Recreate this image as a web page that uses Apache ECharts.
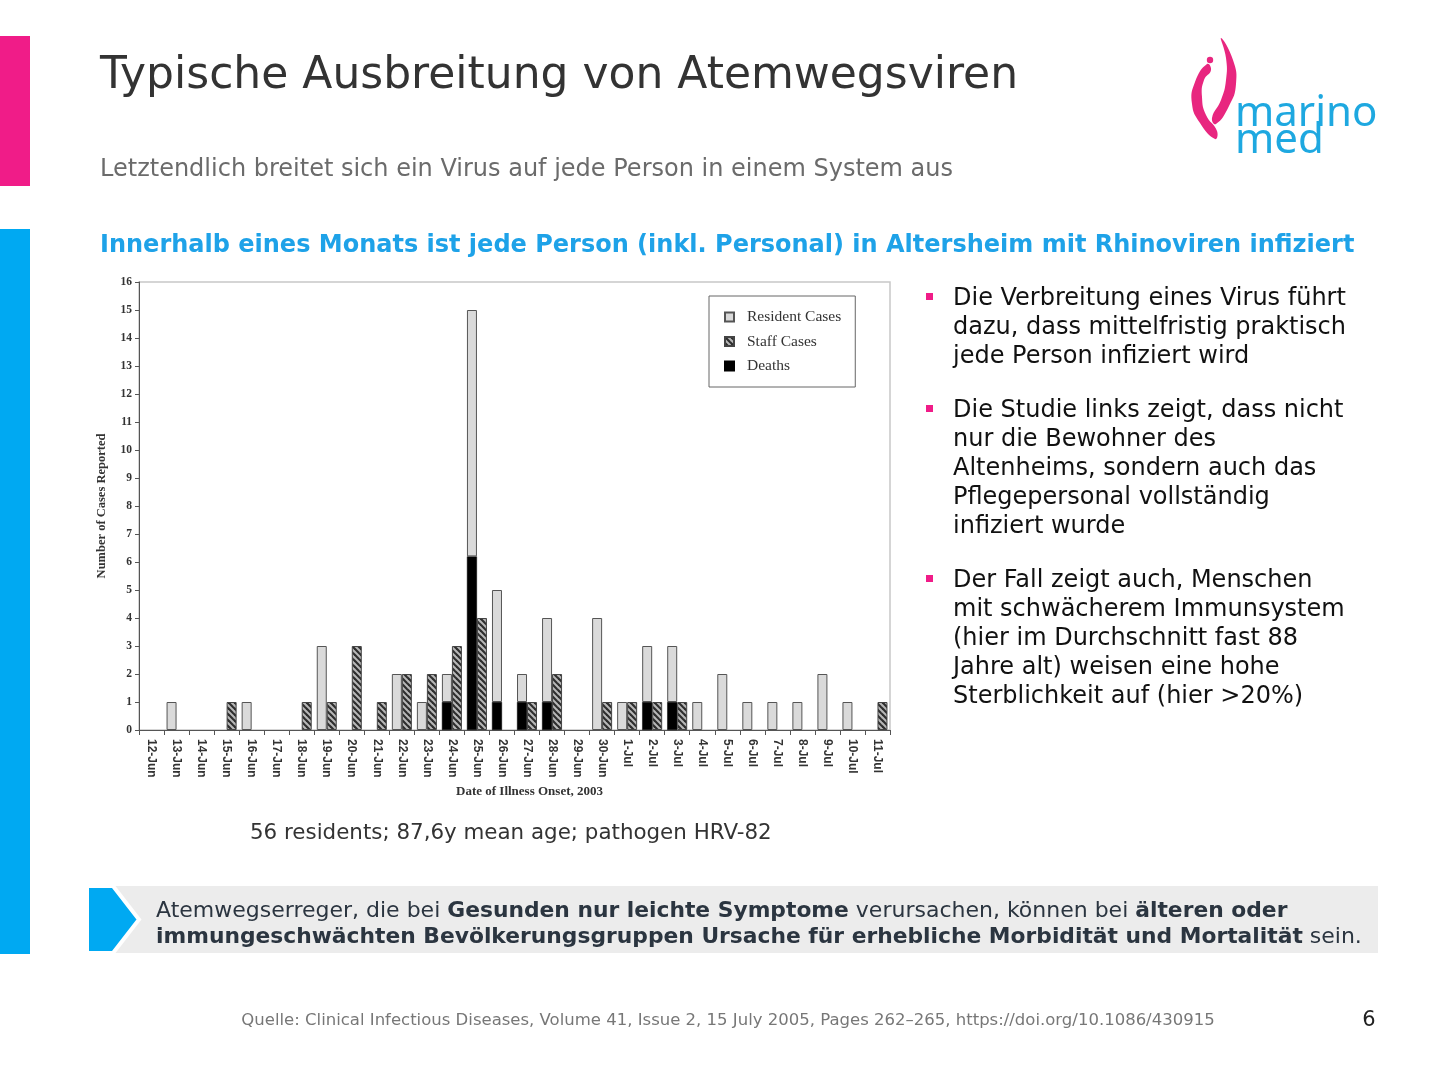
<!DOCTYPE html>
<html>
<head>
<meta charset="utf-8">
<script src="https://cdn.jsdelivr.net/npm/echarts@6/dist/echarts.min.js"></script>
<style>html,body{margin:0;padding:0;background:#fff}#c{width:1440px;height:1080px}</style>
</head>
<body>
<div id="c"></div>
<script>
const days = ['12-Jun','13-Jun','14-Jun','15-Jun','16-Jun','17-Jun','18-Jun','19-Jun','20-Jun','21-Jun','22-Jun','23-Jun','24-Jun','25-Jun','26-Jun','27-Jun','28-Jun','29-Jun','30-Jun','1-Jul','2-Jul','3-Jul','4-Jul','5-Jul','6-Jul','7-Jul','8-Jul','9-Jul','10-Jul','11-Jul'];
const residentCases = [0,1,0,0,1,0,0,3,0,0,2,1,2,15,5,2,4,0,4,1,3,3,1,2,1,1,1,2,1,0];
const staffCases    = [0,0,0,1,0,0,1,1,3,1,2,2,3,4,0,1,2,0,1,1,1,1,0,0,0,0,0,0,0,1];
const deaths        = [0,0,0,0,0,0,0,0,0,0,0,0,1,6.2,1,1,1,0,0,0,1,1,0,0,0,0,0,0,0,0];
const yTicks = [0,1,2,3,4,5,6,7,8,9,10,11,12,13,14,15,16];

// hatch pattern for staff cases
const pc = document.createElement('canvas');
pc.width = 6; pc.height = 6;
const g = pc.getContext('2d');
g.fillStyle = '#b8b8b8'; g.fillRect(0,0,6,6);
g.strokeStyle = '#2e2e2e'; g.lineWidth = 2.2;
for (const x0 of [-6,0,6]) { g.beginPath(); g.moveTo(x0-1,-1); g.lineTo(x0+7,7); g.stroke(); }

const nz = a => a.map(v => v === 0 ? '-' : v);
const residentRest = residentCases.map((v,i) => v - deaths[i]);

const serif = 'Liberation Serif, Times New Roman, serif';
const narrow = 'Liberation Sans Narrow, Arial Narrow, Liberation Sans, sans-serif';
const sans = 'DejaVu Sans, Verdana, sans-serif';

const chart = echarts.init(document.getElementById('c'), null, {renderer:'canvas'});
chart.setOption({
  animation:false,
  backgroundColor:'#fff',
  grid:{left:139, top:282, width:751, height:448, show:true, borderColor:'#c8c8c8', borderWidth:1.5},
  legend:{
    data:['Resident Cases','Staff Cases','Deaths'],
    orient:'vertical', left:709, top:296,
    padding:[12,14,12,15],
    icon:'rect',
    itemWidth:9, itemHeight:9, itemGap:6.5,
    borderColor:'#666', borderWidth:1,
    textStyle:{fontFamily:serif, fontSize:15.5, color:'#333', lineHeight:18, padding:[0,0,0,8]}
  },
  xAxis:{
    type:'category', data:days, boundaryGap:true,
    axisLine:{lineStyle:{color:'#555', width:1}},
    axisTick:{show:true, interval:0, length:5, lineStyle:{color:'#555'}},
    axisLabel:{interval:0, rotate:-90, margin:9, fontFamily:narrow, fontWeight:'bold', fontSize:12, color:'#333'},
    name:'Date of Illness Onset, 2003', nameLocation:'middle', nameGap:55,
    nameTextStyle:{fontFamily:serif, fontWeight:'bold', fontSize:13, color:'#333', padding:[0,0,0,30]}
  },
  yAxis:{
    type:'value', min:yTicks[0], max:yTicks[yTicks.length-1], interval:1,
    axisLine:{show:true, lineStyle:{color:'#555', width:1}},
    axisTick:{show:true, length:4, lineStyle:{color:'#555'}},
    splitLine:{show:false},
    axisLabel:{fontFamily:serif, fontWeight:'bold', fontSize:11.5, color:'#333', margin:7},
    name:'Number of Cases Reported', nameLocation:'middle', nameGap:31,
    nameTextStyle:{fontFamily:serif, fontWeight:'bold', fontSize:12.5, color:'#333'}
  },
  series:[
    {name:'Deaths', type:'bar', stack:'res', data:nz(deaths), barWidth:10, barGap:'0%',
     itemStyle:{color:'#000', borderColor:'#000', borderWidth:0.5}},
    {name:'Resident Cases', type:'bar', stack:'res', data:nz(residentRest), barWidth:10, barGap:'0%',
     itemStyle:{color:'#dadada', borderColor:'#555', borderWidth:1}},
    {name:'Staff Cases', type:'bar', stack:'staff', data:nz(staffCases), barWidth:10, barGap:'0%',
     itemStyle:{color:{image:pc, repeat:'repeat'}, borderColor:'#444', borderWidth:1}}
  ],
  graphic:[
    {type:'rect', shape:{x:0,y:36,width:30,height:150}, style:{fill:'#f01c88'}},
    {type:'rect', shape:{x:0,y:229,width:30,height:725}, style:{fill:'#00a9f2'}},
    {type:'text', style:{text:'Typische Ausbreitung von Atemwegsviren', x:100, y:77, fontFamily:sans, fontSize:44, fill:'#333', textVerticalAlign:'middle'}},
    {type:'text', style:{text:'Letztendlich breitet sich ein Virus auf jede Person in einem System aus', x:100, y:170, fontFamily:sans, fontSize:24, fill:'#6b6b6b', textVerticalAlign:'middle'}},
    {type:'text', style:{text:'Innerhalb eines Monats ist jede Person (inkl. Personal) in Altersheim mit Rhinoviren infiziert', x:100, y:246, fontFamily:sans, fontSize:24, fontWeight:'bold', fill:'#1ea2e8', textVerticalAlign:'middle'}},
    // logo
    {type:'polygon', shape:{smooth:0.5, points:[[1221,38],[1233,60],[1236,84],[1229,106],[1216,124],[1212,118],[1221,100],[1226,80],[1226,58]]}, style:{fill:'#e8267f'}},
    {type:'polygon', shape:{smooth:0.5, points:[[1207,64],[1195,82],[1192,104],[1200,123],[1215,139],[1217,131],[1206,115],[1202,97],[1204,80],[1211,70]]}, style:{fill:'#e8267f'}},
    {type:'circle', shape:{cx:1210, cy:60, r:3.2}, style:{fill:'#e8267f'}},
    {type:'text', style:{text:'marino', x:1235, y:114, fontFamily:'Noto Sans, sans-serif', fontSize:42, fill:'#1ea8e0', textVerticalAlign:'middle'}},
    {type:'text', style:{text:'med', x:1235, y:141, fontFamily:'Noto Sans, sans-serif', fontSize:42, fill:'#1ea8e0', textVerticalAlign:'middle'}},
    // bullets
    {type:'rect', shape:{x:926,y:293,width:7,height:7}, style:{fill:'#f01c88'}},
    {type:'rect', shape:{x:926,y:405,width:7,height:7}, style:{fill:'#f01c88'}},
    {type:'rect', shape:{x:926,y:575,width:7,height:7}, style:{fill:'#f01c88'}},
    {type:'text', style:{text:'Die Verbreitung eines Virus führt\ndazu, dass mittelfristig praktisch\njede Person infiziert wird', x:953, y:284.5, fontFamily:sans, fontSize:24, lineHeight:29, fill:'#111'}},
    {type:'text', style:{text:'Die Studie links zeigt, dass nicht\nnur die Bewohner des\nAltenheims, sondern auch das\nPflegepersonal vollständig\ninfiziert wurde', x:953, y:396.5, fontFamily:sans, fontSize:24, lineHeight:29, fill:'#111'}},
    {type:'text', style:{text:'Der Fall zeigt auch, Menschen\nmit schwächerem Immunsystem\n(hier im Durchschnitt fast 88\nJahre alt) weisen eine hohe\nSterblichkeit auf (hier >20%)', x:953, y:566.5, fontFamily:sans, fontSize:24, lineHeight:29, fill:'#111'}},
    {type:'text', style:{text:'56 residents; 87,6y mean age; pathogen HRV-82', x:250, y:833, fontFamily:sans, fontSize:21.4, fill:'#333', textVerticalAlign:'middle'}},
    // bottom box
    {type:'rect', shape:{x:87,y:886,width:1291,height:67}, style:{fill:'#ececec'}},
    {type:'polygon', shape:{points:[[87,886],[113,886],[139,919.5],[113,953],[87,953]]}, style:{fill:'#00a9f2', stroke:'#fff', lineWidth:4}},
    {type:'text', style:{
      x:156, y:898,
      text:'{n|Atemwegserreger, die bei }{b|Gesunden nur leichte Symptome}{n| verursachen, können bei }{b|älteren oder}\n{b|immungeschwächten Bevölkerungsgruppen Ursache für erhebliche Morbidität und Mortalität}{n| sein.}',
      fontFamily:sans, fontSize:22, lineHeight:26, fill:'#2b3540',
      rich:{n:{fontFamily:sans, fontSize:22, lineHeight:26, fill:'#2b3540'}, b:{fontFamily:sans, fontSize:21.8, lineHeight:26, fontWeight:'bold', fill:'#2b3540'}}
    }},
    {type:'text', style:{text:'Quelle: Clinical Infectious Diseases, Volume 41, Issue 2, 15 July 2005, Pages 262–265, https://doi.org/10.1086/430915', x:728, y:1021, fontFamily:sans, fontSize:16.5, fill:'#777', textAlign:'center', textVerticalAlign:'middle'}},
    {type:'text', style:{text:'6', x:1369, y:1021, fontFamily:sans, fontSize:21, fill:'#222', textAlign:'center', textVerticalAlign:'middle'}}
  ]
});
</script>
</body>
</html>
